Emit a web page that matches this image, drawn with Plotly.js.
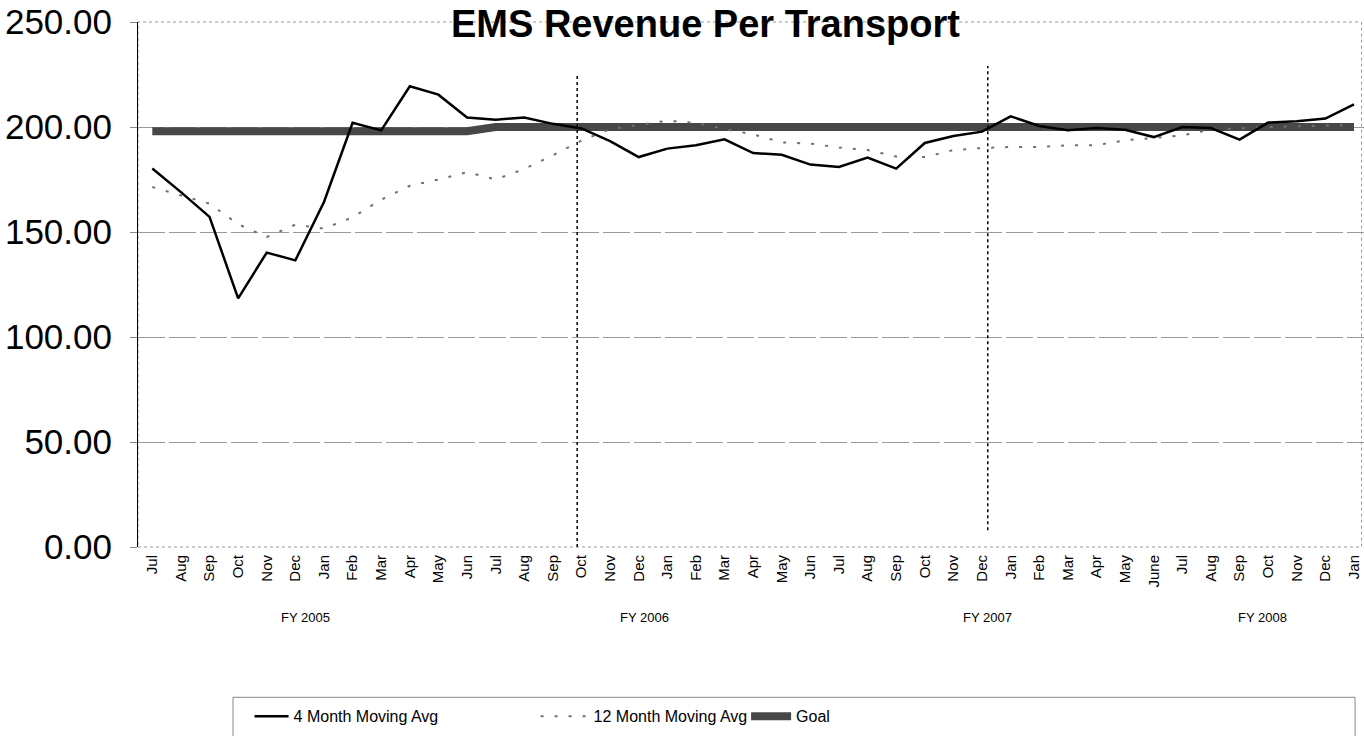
<!DOCTYPE html>
<html>
<head>
<meta charset="utf-8">
<script src="https://cdn.plot.ly/plotly-3.0.1.min.js"></script>
<style>
  html, body { margin: 0; padding: 0; overflow: hidden; background: #fff; }
  #chart { width: 1364px; height: 736px; }
</style>
</head>
<body>
<div id="chart"></div>
<script>
// ---- data ----
const months = ['Jul','Aug','Sep','Oct','Nov','Dec','Jan','Feb','Mar','Apr','May','Jun',
                'Jul','Aug','Sep','Oct','Nov','Dec','Jan','Feb','Mar','Apr','May','Jun',
                'Jul','Aug','Sep','Oct','Nov','Dec','Jan','Feb','Mar','Apr','May','June',
                'Jul','Aug','Sep','Oct','Nov','Dec','Jan'];
const avg4 = [180.2, 169.0, 157.2, 118.4, 140.2, 136.5, 164.3, 202.0, 198.4, 219.4,
              215.4, 204.5, 203.5, 204.5, 201.5, 199.3, 193.3, 185.7, 189.7, 191.3,
              194.1, 187.6, 186.8, 182.1, 181.0, 185.4, 180.2, 192.4, 195.7, 197.8,
              205.1, 200.5, 198.5, 199.5, 198.7, 195.2, 200.0, 199.5, 194.0, 202.1,
              202.7, 204.0, 210.8];
const avg12 = [171.4, 167.5, 163.5, 153.7, 147.6, 153.5, 151.6, 157.0, 165.4, 172.0,
               175.0, 178.5, 175.0, 180.0, 186.5, 193.5, 199.0, 201.0, 203.0, 202.0,
               199.0, 196.5, 192.7, 192.1, 190.2, 189.0, 186.0, 185.7, 189.0, 190.0,
               190.5, 190.5, 191.3, 191.3, 193.7, 194.8, 196.0, 198.7, 199.5, 200.0,
               200.3, 200.5, 201.0];
const goal = [198, 198, 198, 198, 198, 198, 198, 198, 198, 198, 198, 198,
              200, 200, 200, 200, 200, 200, 200, 200, 200, 200, 200, 200,
              200, 200, 200, 200, 200, 200, 200, 200, 200, 200, 200, 200,
              200, 200, 200, 200, 200, 200, 200];
const seriesNames = ['4 Month Moving Avg', '12 Month Moving Avg', 'Goal'];
const fyLabels = ['FY 2005', 'FY 2006', 'FY 2007', 'FY 2008'];
const chartTitle = 'EMS Revenue Per Transport';

// ---- layout config ----
const FONT = 'Liberation Sans, Arial, sans-serif';
const fyPositions = [5.34, 17.2, 29.2, 38.8];
const idx = months.map((_, i) => i);

const traces = [
  { x: idx, y: goal, name: seriesNames[2], type: 'scatter', mode: 'lines',
    line: { color: '#474747', width: 8 }, legend: 'legend3' },
  { x: idx, y: avg12, name: seriesNames[1], type: 'scatter', mode: 'lines',
    line: { color: '#707070', width: 2, dash: '3px,11px' }, legend: 'legend2' },
  { x: idx, y: avg4, name: seriesNames[0], type: 'scatter', mode: 'lines',
    line: { color: '#000', width: 2.5 }, legend: 'legend' }
];

const legendBase = { orientation: 'h', yanchor: 'middle', xanchor: 'left', y: -0.3225,
  font: { family: FONT, size: 16, color: '#000' }, bgcolor: 'rgba(0,0,0,0)',
  borderwidth: 0, itemwidth: 34 };

const layout = {
  width: 1364, height: 736,
  margin: { l: 138, r: 0, t: 22, b: 189 },
  paper_bgcolor: '#fff', plot_bgcolor: '#fff',
  showlegend: true,
  legend: Object.assign({}, legendBase, { x: 0.091 }),
  legend2: Object.assign({}, legendBase, { x: 0.3243, itemwidth: 48 }),
  legend3: Object.assign({}, legendBase, { x: 0.496, itemwidth: 40 }),
  xaxis: {
    range: [-0.5, 42.35], tickvals: idx, ticktext: months, tickangle: -90,
    tickfont: { family: FONT, size: 15, color: '#000' }, ticklabelstandoff: 4,
    showgrid: false, zeroline: false, showline: false, ticks: '', fixedrange: true
  },
  yaxis: {
    range: [0, 250], dtick: 50, tickformat: '.2f',
    tickfont: { family: FONT, size: 35, color: '#000' }, ticklabelstandoff: 11,
    showgrid: true, gridcolor: '#9a9a9a', gridwidth: 1, griddash: '27px,4px',
    zeroline: false, showline: true, linecolor: '#000', linewidth: 1,
    ticks: 'outside', ticklen: 7, tickcolor: '#888', fixedrange: true
  },
  shapes: [
    { type: 'rect', xref: 'paper', yref: 'paper', x0: 0, x1: 0.998, y0: 0, y1: 1,
      line: { color: '#999', width: 1, dash: 'dot' }, layer: 'below' },
    { type: 'line', xref: 'x', yref: 'y', x0: 14.85, x1: 14.85, y0: 0, y1: 225,
      line: { color: '#000', width: 1.5, dash: 'dot' } },
    { type: 'line', xref: 'x', yref: 'y', x0: 29.2, x1: 29.2, y0: 8, y1: 229,
      line: { color: '#000', width: 1.5, dash: 'dot' } },
    { type: 'rect', xref: 'paper', yref: 'paper', x0: 0.0775, x1: 0.9927, y0: -0.2863, y1: -0.40,
      line: { color: '#888', width: 1 } }
  ],
  annotations: fyLabels.map((t, i) => ({
    text: t, x: fyPositions[i], xref: 'x', y: -0.134, yref: 'paper',
    xanchor: 'center', yanchor: 'middle', showarrow: false,
    font: { family: FONT, size: 13, color: '#000' }
  })).concat([{
    text: '<b>' + chartTitle + '</b>', xref: 'paper', yref: 'paper',
    x: (705 - 138) / 1226, y: 1 + 20 / 525, xanchor: 'center', yanchor: 'top',
    showarrow: false, borderpad: 0,
    font: { family: FONT, size: 38, color: '#000' }
  }])
};

Plotly.newPlot('chart', traces, layout, { displayModeBar: false, staticPlot: true });
</script>
</body>
</html>
